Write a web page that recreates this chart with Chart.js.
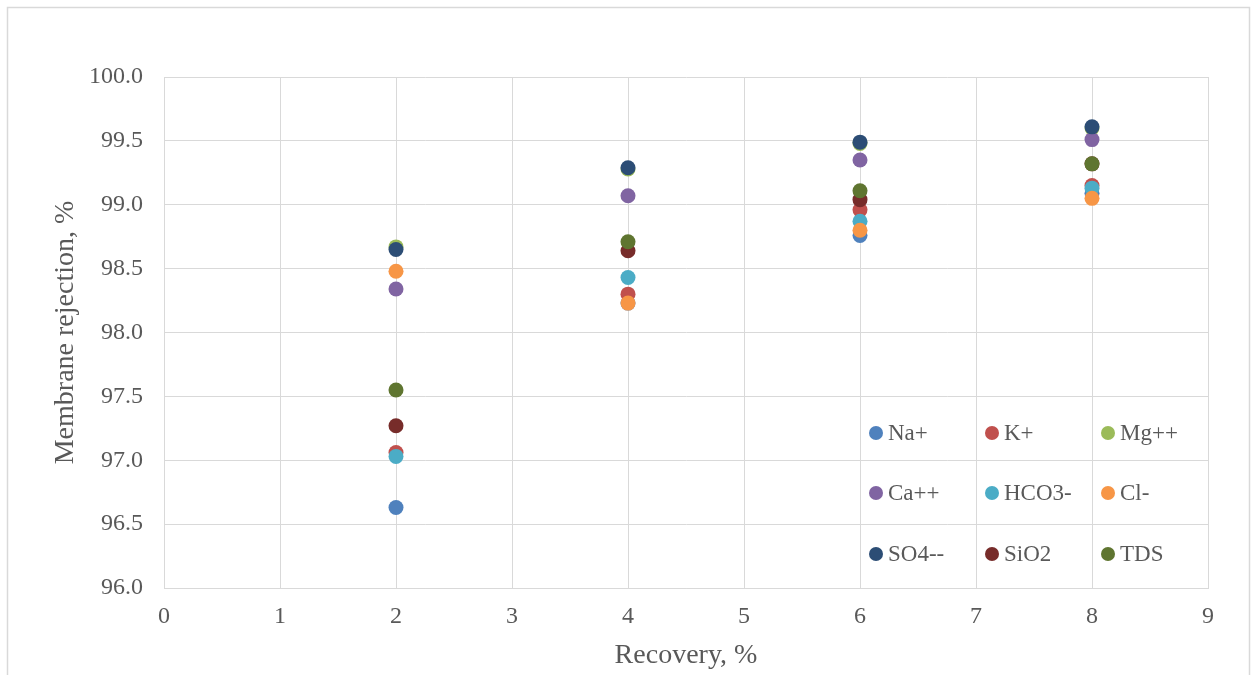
<!DOCTYPE html>
<html>
<head>
<meta charset="utf-8">
<title>Membrane rejection vs recovery</title>
<script src="https://cdn.jsdelivr.net/npm/chart.js@4/dist/chart.umd.min.js"></script>
<style>
  html, body { margin: 0; padding: 0; background: #ffffff; }
  #wrap { position: relative; width: 1253px; height: 675px; }
  canvas { display: block; }
</style>
</head>
<body>
<div id="wrap"><canvas id="chart" width="1253" height="675"></canvas></div>
<script>
// Recovery values (x) shared by every ion series
const recovery = [2, 4, 6, 8];

// Membrane rejection, % per ion
const naPlus   = [96.63, 98.23, 98.76, 99.09];
const kPlus    = [97.06, 98.30, 98.96, 99.15];
const mgPlus   = [98.67, 99.28, 99.48, 99.60];
const caPlus   = [98.34, 99.07, 99.35, 99.51];
const hco3     = [97.03, 98.43, 98.87, 99.13];
const clMinus  = [98.48, 98.23, 98.80, 99.05];
const so4      = [98.65, 99.29, 99.49, 99.61];
const sio2     = [97.27, 98.64, 99.04, 99.32];
const tds      = [97.55, 98.71, 99.11, 99.32];

const seriesNames  = ['Na+', 'K+', 'Mg++', 'Ca++', 'HCO3-', 'Cl-', 'SO4--', 'SiO2', 'TDS'];
const seriesValues = [naPlus, kPlus, mgPlus, caPlus, hco3, clMinus, so4, sio2, tds];
const seriesColors = ['#4F81BD', '#C0504D', '#9BBB59', '#8064A2', '#4BACC6',
                      '#F79646', '#2C4D75', '#772C2A', '#5F7530'];

// Axis tick labels
const xTicks = [0, 1, 2, 3, 4, 5, 6, 7, 8, 9];
const yTicks = [96.0, 96.5, 97.0, 97.5, 98.0, 98.5, 99.0, 99.5, 100.0];

const FONT = "'Liberation Serif', 'Times New Roman', serif";
const TEXT = '#595959';
const GRID = '#d9d9d9';

const datasets = seriesNames.map((name, i) => ({
  label: name,
  data: recovery.map((x, j) => ({ x: x, y: seriesValues[i][j] })),
  backgroundColor: seriesColors[i],
  borderColor: seriesColors[i],
  borderWidth: 0,
  pointRadius: 7.5,
  pointHoverRadius: 7.5,
  showLine: false,
  // later series sit on top of earlier ones
  order: seriesNames.length - i
}));

// Outer frame around the whole figure
const framePlugin = {
  id: 'frame',
  beforeDraw(chart) {
    const ctx = chart.ctx;
    ctx.save();
    ctx.fillStyle = '#ffffff';
    ctx.fillRect(0, 0, chart.width, chart.height);
    ctx.strokeStyle = GRID;
    ctx.lineWidth = 1.5;
    ctx.strokeRect(7.5, 7.5, 1242, 720);
    ctx.restore();
  }
};

// Three-column legend placed inside the lower right of the plot
const gridLegendPlugin = {
  id: 'gridLegend',
  afterDatasetsDraw(chart) {
    const ctx = chart.ctx;
    const colX = [876, 992, 1108];
    const rowY = [433, 493, 554];
    ctx.save();
    ctx.font = '23px ' + FONT;
    ctx.textBaseline = 'middle';
    ctx.textAlign = 'left';
    seriesNames.forEach((name, i) => {
      const cx = colX[i % 3];
      const cy = rowY[Math.floor(i / 3)];
      ctx.beginPath();
      ctx.arc(cx, cy, 7, 0, Math.PI * 2);
      ctx.fillStyle = seriesColors[i];
      ctx.fill();
      ctx.fillStyle = TEXT;
      ctx.fillText(name, cx + 12, cy + 1);
    });
    ctx.restore();
  }
};

new Chart(document.getElementById('chart'), {
  type: 'scatter',
  data: { datasets: datasets },
  plugins: [framePlugin, gridLegendPlugin],
  options: {
    responsive: false,
    animation: false,
    layout: { padding: { left: 0, top: 77, right: 45, bottom: 0 } },
    plugins: {
      legend: { display: false },
      tooltip: { enabled: false }
    },
    scales: {
      x: {
        type: 'linear',
        min: xTicks[0],
        max: xTicks[xTicks.length - 1],
        afterBuildTicks(scale) { scale.ticks = xTicks.map(v => ({ value: v })); },
        afterFit(scale) { scale.height = 87; },
        grid: { color: GRID, lineWidth: 1, drawTicks: false },
        border: { color: GRID, width: 1 },
        ticks: {
          padding: 14,
          color: TEXT,
          font: { family: FONT, size: 24 },
          callback: v => String(v)
        },
        title: {
          display: true,
          text: 'Recovery, %',
          color: TEXT,
          font: { family: FONT, size: 28 },
          padding: { top: 0, bottom: 3 }
        }
      },
      y: {
        type: 'linear',
        min: yTicks[0],
        max: yTicks[yTicks.length - 1],
        afterBuildTicks(scale) { scale.ticks = yTicks.map(v => ({ value: v })); },
        afterFit(scale) { scale.width = 164; },
        grid: { color: GRID, lineWidth: 1, drawTicks: false },
        border: { color: GRID, width: 1 },
        ticks: {
          padding: 21,
          color: TEXT,
          font: { family: FONT, size: 24 },
          callback: v => Number(v).toFixed(1)
        },
        title: {
          display: true,
          text: 'Membrane rejection, %',
          color: TEXT,
          font: { family: FONT, size: 28 },
          padding: { top: 49, bottom: 0 }
        }
      }
    }
  }
});
</script>
</body>
</html>
